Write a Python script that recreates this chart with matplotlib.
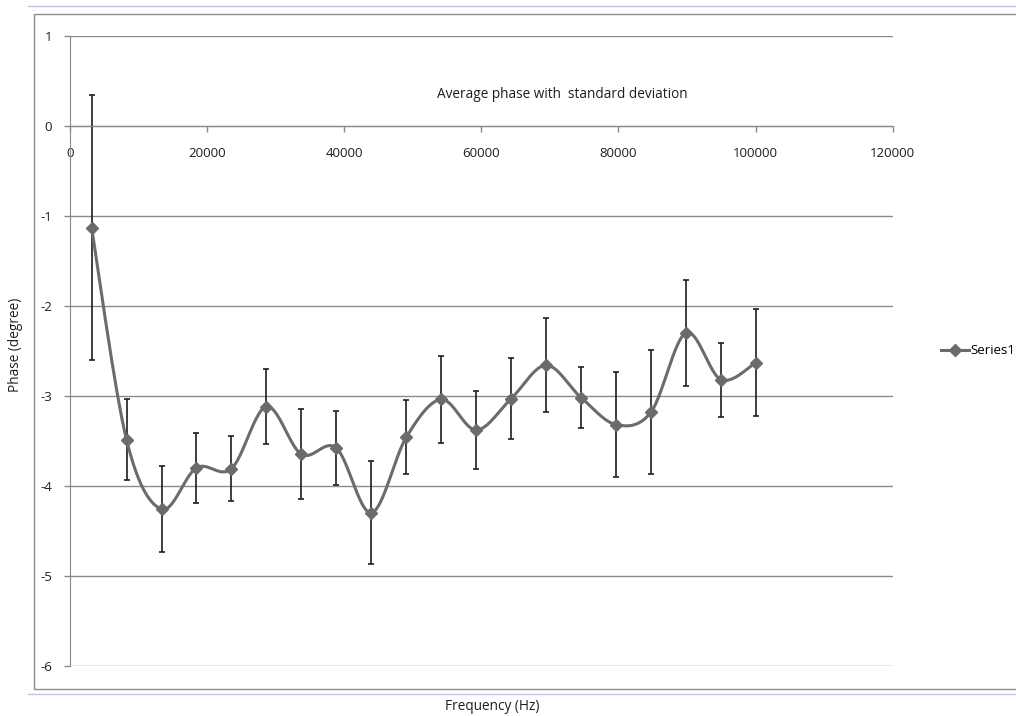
import numpy as np
import matplotlib.pyplot as plt
from matplotlib.lines import Line2D
from matplotlib.patches import Rectangle

plt.rcParams['font.family'] = ['Open Sans', 'DejaVu Sans']

# Frequency points (Hz), mean phase and standard deviation (degree)
freq = [3150, 8250, 13350, 18450, 23550, 28650, 33750, 38850, 43950, 49050,
        54150, 59250, 64350, 69450, 74550, 79650, 84750, 89850, 94950, 100050]
phase = [-1.13, -3.49, -4.26, -3.80, -3.81, -3.12, -3.65, -3.58, -4.30, -3.46,
         -3.04, -3.38, -3.03, -2.66, -3.02, -3.32, -3.18, -2.30, -2.82, -2.63]
std = [1.47, 0.45, 0.48, 0.39, 0.36, 0.42, 0.50, 0.41, 0.57, 0.41,
       0.48, 0.43, 0.45, 0.52, 0.34, 0.58, 0.69, 0.59, 0.41, 0.59]

x_ticks = [0, 20000, 40000, 60000, 80000, 100000, 120000]
y_ticks = [1, 0, -1, -2, -3, -4, -5, -6]

GRAY = '#6b6b6b'
GRID = '#8a8a8a'
TEXT = '#1e1e1e'


def smooth_curve(x, y, steps=30):
    """Catmull-Rom style bezier through the points (like a smoothed line)."""
    p = np.column_stack([x, y]).astype(float)
    n = len(p)
    out = []
    t = np.linspace(0, 1, steps)[:, None]
    for i in range(n - 1):
        p0 = p[i - 1] if i > 0 else p[i]
        p1, p2 = p[i], p[i + 1]
        p3 = p[i + 2] if i + 2 < n else p[i + 1]
        c1 = p1 + (p2 - p0) / 6
        c2 = p2 - (p3 - p1) / 6
        seg = ((1 - t) ** 3) * p1 + 3 * ((1 - t) ** 2) * t * c1 \
            + 3 * (1 - t) * t ** 2 * c2 + t ** 3 * p2
        out.append(seg if i == 0 else seg[1:])
    seg = np.vstack(out)
    return seg[:, 0], seg[:, 1]


W, H = 1016, 716
fig = plt.figure(figsize=(W / 100, H / 100), dpi=100)
fig.patch.set_facecolor('white')

# chart area frame and the thin blue rules above and below it
fig.patches.append(Rectangle((34 / W, 1 - 689 / H), 1.0, (689 - 13.5) / H,
                             transform=fig.transFigure, fill=False,
                             edgecolor='#8c8c8c', lw=1.0))
for yy in (6, 694):
    fig.lines.append(Line2D([28 / W, 1.0], [1 - yy / H, 1 - yy / H],
                            transform=fig.transFigure, color='#b7c9e8', lw=1.0))

ax = fig.add_axes([70 / W, 1 - 665.7 / H, (892.7 - 70) / W, (665.7 - 36) / H])
ax.set_xlim(0, 120000)
ax.set_ylim(-6, 1)

for s in ('top', 'right'):
    ax.spines[s].set_visible(False)
ax.spines['left'].set_color(GRID)
ax.spines['bottom'].set_color(GRID)
ax.spines['bottom'].set_position(('data', 0))

ax.set_xticks(x_ticks)
ax.set_xticklabels([str(v) for v in x_ticks])
ax.set_yticks(y_ticks)
ax.set_yticklabels([str(v) for v in y_ticks])
ax.tick_params(axis='x', direction='out', length=4, width=1, color=GRID,
               pad=11, labelsize=9.5, labelcolor=TEXT)
ax.tick_params(axis='y', direction='out', length=4, width=1, color=GRID,
               pad=9, labelsize=9.5, labelcolor=TEXT)

ax.yaxis.grid(True, color=GRID, lw=1.0)
ax.set_axisbelow(True)

ax.errorbar(freq, phase, yerr=std, fmt='none', ecolor='#1e1e1e',
            elinewidth=1.2, capsize=2.5, capthick=1.2, zorder=2)
sx, sy = smooth_curve(freq, phase)
ax.plot(sx, sy, color=GRAY, lw=2.2, zorder=3, solid_capstyle='round')
ax.plot(freq, phase, linestyle='none', marker='D', ms=6, color=GRAY, zorder=4)

fig.text(562 / W, 1 - 95 / H, 'Average phase with  standard deviation',
         ha='center', va='center', fontsize=9.8, color=TEXT)
fig.text(492 / W, 1 - 707 / H, 'Frequency (Hz)', ha='center', va='center',
         fontsize=9.8, color=TEXT)
fig.text(16 / W, 1 - 345 / H, 'Phase (degree)', ha='center', va='center',
         rotation=90, fontsize=9.8, color=TEXT)

handle = Line2D([], [], color=GRAY, lw=2.2, marker='D', ms=6)
fig.legend([handle], ['Series1'], loc='center left',
           bbox_to_anchor=(941 / W, 1 - 351 / H), frameon=False,
           borderpad=0, borderaxespad=0, handlelength=2.1, handletextpad=0.15,
           fontsize=9.5)

fig.savefig('out.png', dpi=100)
